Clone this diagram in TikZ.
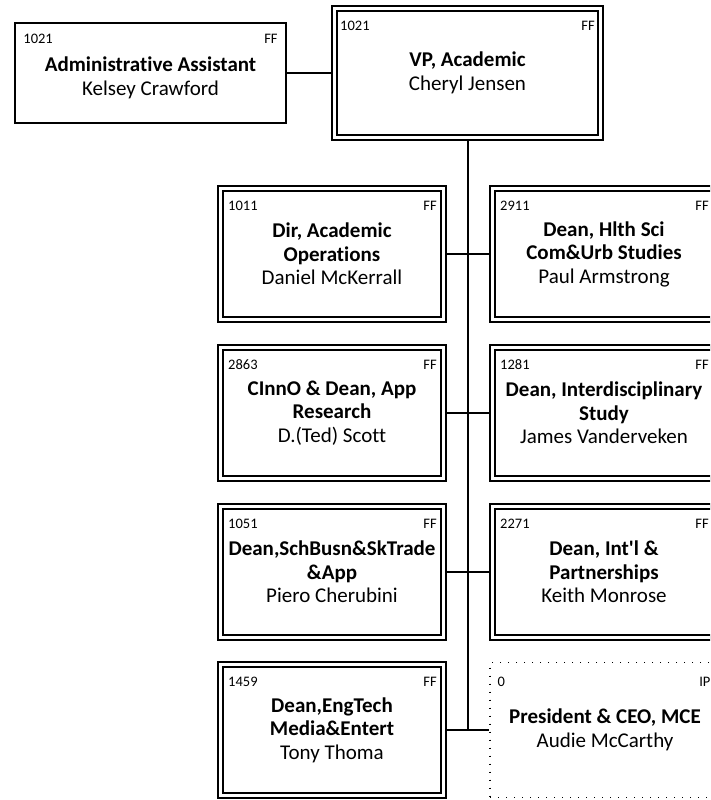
\documentclass[tikz,border=0pt]{standalone}
\usepackage{fontspec}
\setmainfont{Carlito}[Ligatures={NoCommon}]
\begin{document}
\begin{tikzpicture}[x=1pt, y=-1pt,
  post/.style={align=center, inner sep=0pt, font=\fontsize{21}{23.5}\selectfont},
  solo/.style={post, draw, line width=1.6pt, minimum width=271pt, minimum height=100pt},
  dbl/.style={post, draw, line width=1.6pt, double=white, double distance=3.6pt,
    outer sep=3.4pt, minimum width=223.2pt, minimum height=131.2pt},
  vacant/.style={post, draw, line width=1.2pt, dash pattern=on 1.2pt off 6.8pt,
    minimum width=230pt, minimum height=135pt},
  idl/.style={inner sep=0pt, font=\fontsize{14.5}{16}\selectfont},
  lcode/.style={label={[idl, anchor=base west, xshift=11pt, yshift=-25pt]north west:#1}},
  rcode/.style={label={[idl, anchor=base east, xshift=-10pt, yshift=-25pt]north east:#1}},
  link/.style={line width=2pt}]
\useasboundingbox (0,0) rectangle (710,800);
\clip (0,0) rectangle (710,800);
\node[solo, label={[idl, anchor=base west, xshift=9pt, yshift=-21pt]north west:1021},
  label={[idl, anchor=base east, xshift=-9pt, yshift=-21pt]north east:FF}]
  (admin) at (150.5,73) {\rule{0pt}{24pt}\textbf{Administrative Assistant}\\Kelsey Crawford};
\node[dbl, minimum width=266.2pt, minimum height=129.2pt,
  label={[idl, anchor=base west, xshift=9pt, yshift=-26pt]north west:1021},
  label={[idl, anchor=base east, xshift=-9pt, yshift=-26pt]north east:FF}]
  (vp) at (467.5,73) {\textbf{VP, Academic}\\Cheryl Jensen};
% left column
\node[dbl, lcode=1011, rcode=FF] (acadops) at (332,254) {\textbf{Dir, Academic}\\\textbf{Operations}\\Daniel McKerrall};
\node[dbl, lcode=2863, rcode=FF] (cinno) at (332,413) {\textbf{CInnO \& Dean, App}\\\textbf{Research}\\D.(Ted) Scott};
\node[dbl, lcode=1051, rcode=FF] (schbusn) at (332,572) {\textbf{Dean,SchBusn\&SkTrade}\\\textbf{\&App}\\Piero Cherubini};
\node[dbl, lcode=1459, rcode=FF] (engtech) at (332,730) {\textbf{Dean,EngTech}\\\textbf{Media\&Entert}\\Tony Thoma};
% right column
\node[dbl, lcode=2911, rcode=FF] (hlthsci) at (604,254) {\textbf{Dean, Hlth Sci}\\\textbf{Com\&Urb Studies}\\Paul Armstrong};
\node[dbl, lcode=1281, rcode=FF] (interdisc) at (604,413) {\textbf{Dean, Interdisciplinary}\\\textbf{Study}\\James Vanderveken};
\node[dbl, lcode=2271, rcode=FF] (intl) at (604,572) {\textbf{Dean, Int\textquotesingle l \&}\\\textbf{Partnerships}\\Keith Monrose};
\node[vacant, label={[idl, anchor=base west, xshift=8pt, yshift=-25pt]north west:0},
  label={[idl, anchor=base east, xshift=-10pt, yshift=-25pt]north east:IP}]
  (pres) at (605,730) {\textbf{President \& CEO, MCE}\\Audie McCarthy};
% connectors
\draw[link] (admin.east) -- (vp.west);
\draw[link] (vp.south) -- (vp.south |- pres.west);
\foreach \from/\to in {acadops/hlthsci, cinno/interdisc, schbusn/intl, engtech/pres}
  \draw[link] (\from.east) -- (\to.west);
\end{tikzpicture}
\end{document}
